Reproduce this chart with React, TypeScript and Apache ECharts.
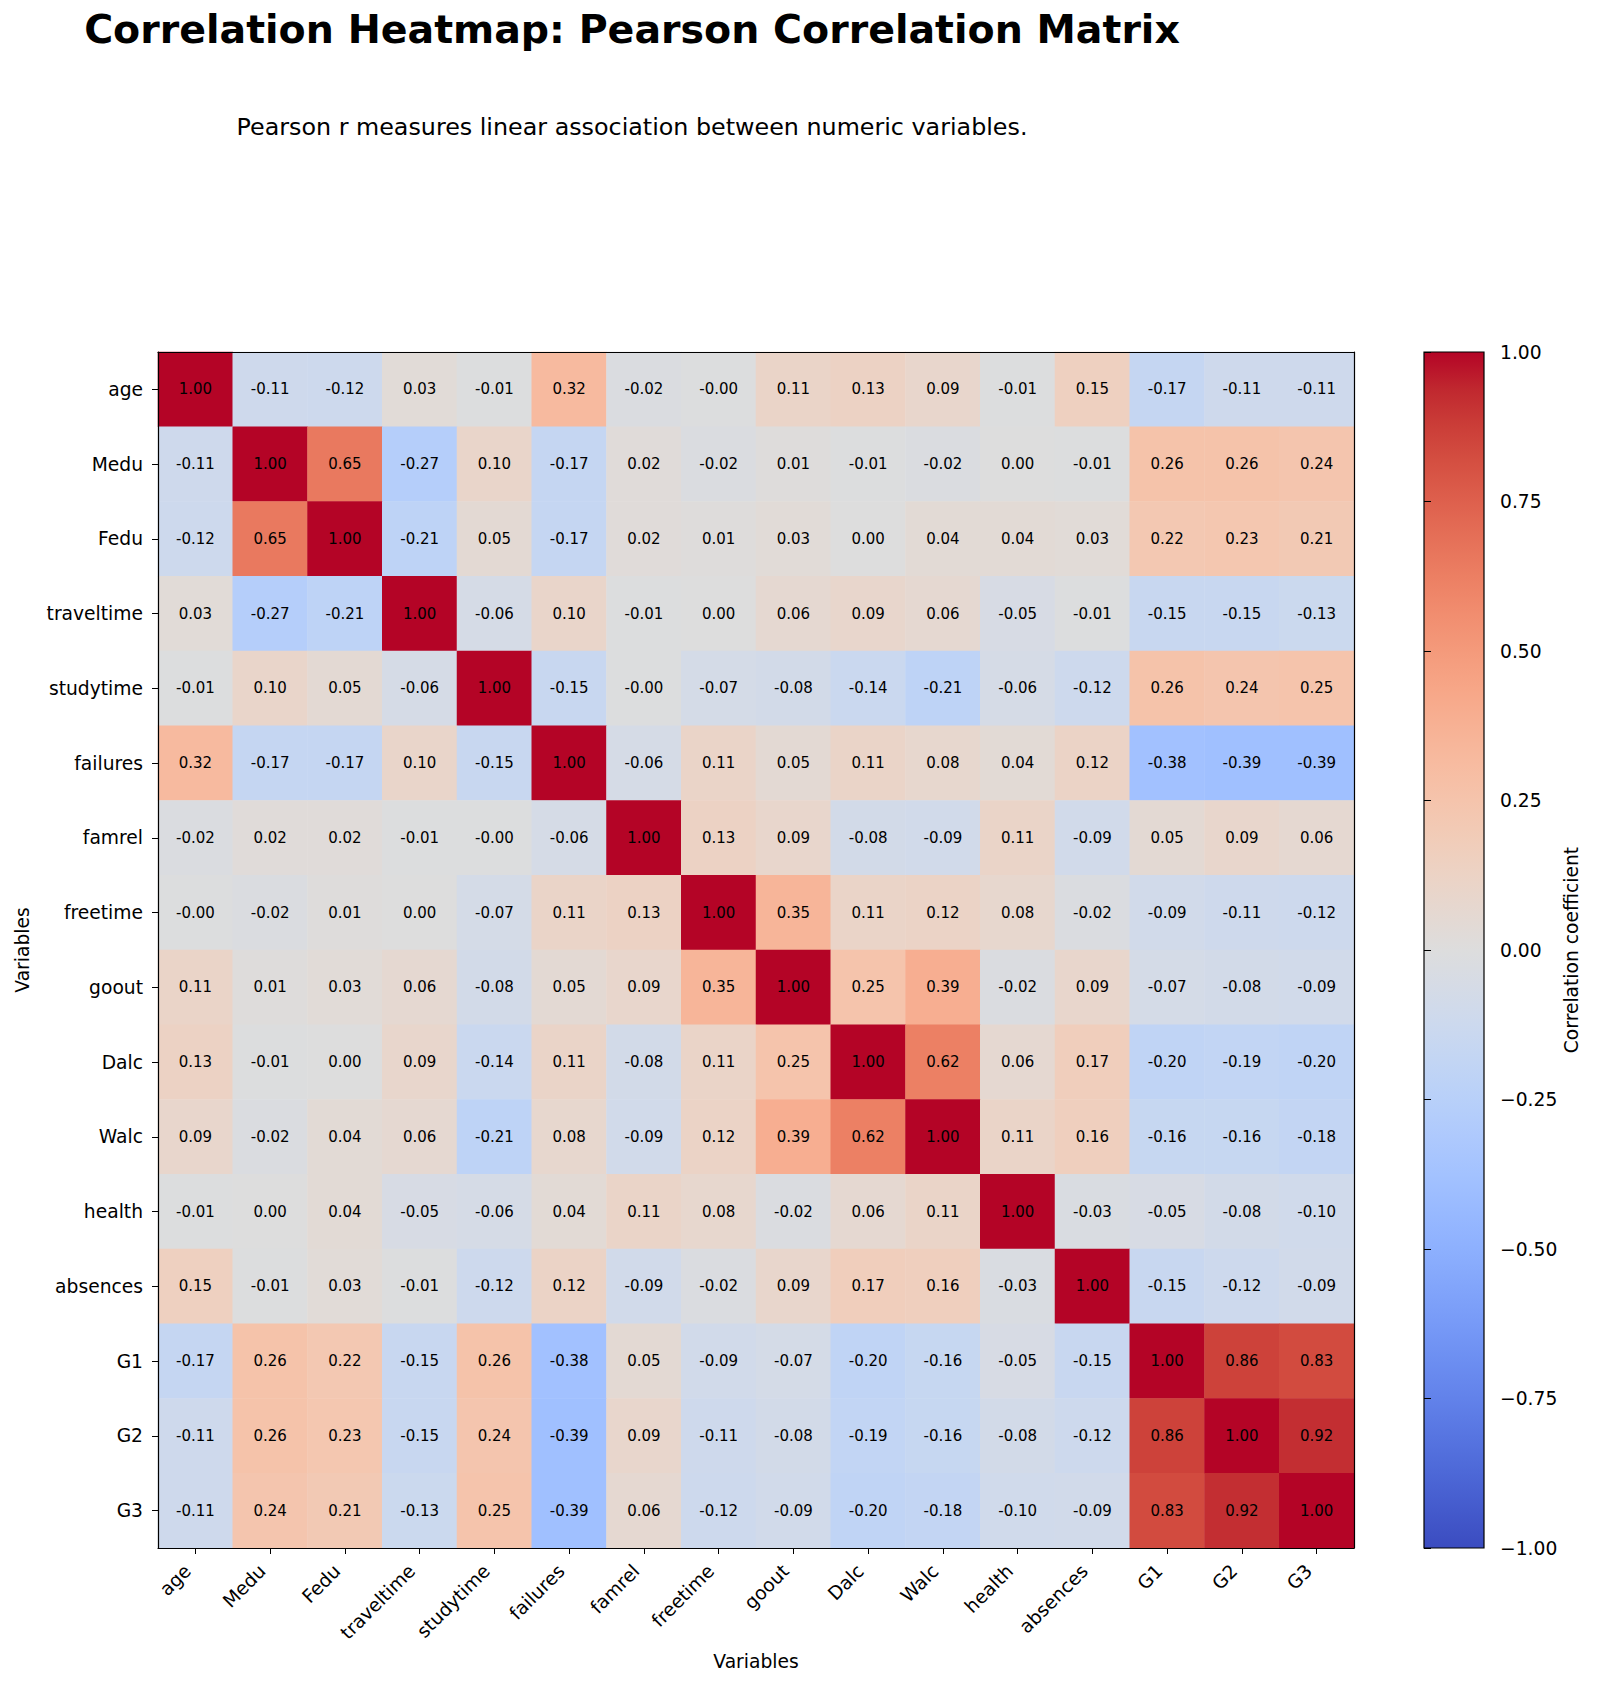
import React, { useEffect, useRef } from "react";
import * as echarts from "echarts";

// ---------- data ----------
const variables = [
  "age", "Medu", "Fedu", "traveltime", "studytime", "failures", "famrel", "freetime",
  "goout", "Dalc", "Walc", "health", "absences", "G1", "G2", "G3",
];

const rowAge = [1.0, -0.11, -0.12, 0.03, -0.01, 0.32, -0.02, -0.004, 0.11, 0.13, 0.09, -0.01, 0.15, -0.17, -0.11, -0.11];
const rowMedu = [-0.11, 1.0, 0.65, -0.27, 0.1, -0.17, 0.02, -0.02, 0.01, -0.01, -0.02, 0.0, -0.01, 0.26, 0.26, 0.24];
const rowFedu = [-0.12, 0.65, 1.0, -0.21, 0.05, -0.17, 0.02, 0.01, 0.03, 0.0, 0.04, 0.04, 0.03, 0.22, 0.23, 0.21];
const rowTraveltime = [0.03, -0.27, -0.21, 1.0, -0.06, 0.1, -0.01, 0.0, 0.06, 0.09, 0.06, -0.05, -0.01, -0.15, -0.15, -0.13];
const rowStudytime = [-0.01, 0.1, 0.05, -0.06, 1.0, -0.15, -0.004, -0.07, -0.08, -0.14, -0.21, -0.06, -0.12, 0.26, 0.24, 0.25];
const rowFailures = [0.32, -0.17, -0.17, 0.1, -0.15, 1.0, -0.06, 0.11, 0.05, 0.11, 0.08, 0.04, 0.12, -0.38, -0.39, -0.39];
const rowFamrel = [-0.02, 0.02, 0.02, -0.01, -0.004, -0.06, 1.0, 0.13, 0.09, -0.08, -0.09, 0.11, -0.09, 0.05, 0.09, 0.06];
const rowFreetime = [-0.004, -0.02, 0.01, 0.0, -0.07, 0.11, 0.13, 1.0, 0.35, 0.11, 0.12, 0.08, -0.02, -0.09, -0.11, -0.12];
const rowGoout = [0.11, 0.01, 0.03, 0.06, -0.08, 0.05, 0.09, 0.35, 1.0, 0.25, 0.39, -0.02, 0.09, -0.07, -0.08, -0.09];
const rowDalc = [0.13, -0.01, 0.0, 0.09, -0.14, 0.11, -0.08, 0.11, 0.25, 1.0, 0.62, 0.06, 0.17, -0.2, -0.19, -0.2];
const rowWalc = [0.09, -0.02, 0.04, 0.06, -0.21, 0.08, -0.09, 0.12, 0.39, 0.62, 1.0, 0.11, 0.16, -0.16, -0.16, -0.18];
const rowHealth = [-0.01, 0.0, 0.04, -0.05, -0.06, 0.04, 0.11, 0.08, -0.02, 0.06, 0.11, 1.0, -0.03, -0.05, -0.08, -0.1];
const rowAbsences = [0.15, -0.01, 0.03, -0.01, -0.12, 0.12, -0.09, -0.02, 0.09, 0.17, 0.16, -0.03, 1.0, -0.15, -0.12, -0.09];
const rowG1 = [-0.17, 0.26, 0.22, -0.15, 0.26, -0.38, 0.05, -0.09, -0.07, -0.2, -0.16, -0.05, -0.15, 1.0, 0.86, 0.83];
const rowG2 = [-0.11, 0.26, 0.23, -0.15, 0.24, -0.39, 0.09, -0.11, -0.08, -0.19, -0.16, -0.08, -0.12, 0.86, 1.0, 0.92];
const rowG3 = [-0.11, 0.24, 0.21, -0.13, 0.25, -0.39, 0.06, -0.12, -0.09, -0.2, -0.18, -0.1, -0.09, 0.83, 0.92, 1.0];

const correlationRows = [
  rowAge, rowMedu, rowFedu, rowTraveltime, rowStudytime, rowFailures, rowFamrel, rowFreetime,
  rowGoout, rowDalc, rowWalc, rowHealth, rowAbsences, rowG1, rowG2, rowG3,
];

const colorMin = -1;
const colorMax = 1;
const colorbarInterval = 0.25;

// matplotlib "coolwarm" (low -> high)
const coolwarm = [
  "#3b4cc0", "#445acc", "#4d68d7", "#5775e1", "#6282ea", "#6c8ef1", "#779af7", "#82a5fb",
  "#8db0fe", "#98b9ff", "#a3c2ff", "#aec9fd", "#b8d0f9", "#c2d5f4", "#ccd9ee", "#d5dbe6",
  "#dddddd", "#e5d8d1", "#ecd3c5", "#f1ccb8", "#f5c4ac", "#f7bba0", "#f7b194", "#f7a687",
  "#f49a7b", "#f18d6f", "#ec7f63", "#e57058", "#de604d", "#d55042", "#cb3e38", "#c0282f",
  "#b40426",
];

const FONT = "DejaVu Sans";

export default function App() {
  const ref = useRef<HTMLDivElement>(null);

  useEffect(() => {
    if (!ref.current) return;
    const chart = echarts.init(ref.current, null, { renderer: "svg" });

    const heatData: [number, number, number][] = [];
    correlationRows.forEach((row, i) => {
      row.forEach((v, j) => heatData.push([j, i, v]));
    });

    const n = coolwarm.length - 1;
    const gradientStops = coolwarm.map((_, k) => ({ offset: k / n, color: coolwarm[n - k] }));

    const black = { color: "#000", width: 1.2 };

    chart.setOption({
      animation: false,
      backgroundColor: "#fff",
      title: [
        {
          text: "Correlation Heatmap: Pearson Correlation Matrix",
          left: 627,
          top: 4,
          textAlign: "center",
          textStyle: { fontSize: 39.5, fontWeight: "bold", color: "#000", fontFamily: FONT },
        },
        {
          text: "Pearson r measures linear association between numeric variables.",
          left: 627,
          top: 110,
          textAlign: "center",
          textStyle: { fontSize: 23.8, fontWeight: "normal", color: "#000", fontFamily: FONT },
        },
      ],
      grid: [
        { left: 158, top: 352, width: 1196, height: 1196, outerBoundsMode: "none" },
        { left: 1424, top: 352, width: 60, height: 1196, outerBoundsMode: "none" },
      ],
      xAxis: [
        {
          type: "category",
          gridIndex: 0,
          data: variables,
          position: "bottom",
          z: 5,
          axisLine: { show: true, lineStyle: black },
          axisTick: { show: true, alignWithLabel: true, length: 6, lineStyle: { color: "#000", width: 1 } },
          axisLabel: {
            interval: 0,
            rotate: 45,
            margin: 12,
            padding: [0, 11, 0, 0],
            fontSize: 18.7,
            color: "#000",
            fontFamily: FONT,
          },
          splitLine: { show: false },
          name: "Variables",
          nameLocation: "middle",
          nameGap: 104,
          nameTextStyle: { fontSize: 18.7, color: "#000", fontFamily: FONT },
        },
        {
          type: "category",
          gridIndex: 0,
          data: variables,
          position: "top",
          z: 5,
          axisLine: { show: true, lineStyle: black },
          axisTick: { show: false },
          axisLabel: { show: false },
          splitLine: { show: false },
        },
        { type: "value", gridIndex: 1, show: false, min: 0, max: 1 },
      ],
      yAxis: [
        {
          type: "category",
          gridIndex: 0,
          data: variables,
          inverse: true,
          position: "left",
          z: 5,
          axisLine: { show: true, lineStyle: black },
          axisTick: { show: true, alignWithLabel: true, length: 6, lineStyle: { color: "#000", width: 1 } },
          axisLabel: { interval: 0, margin: 15, fontSize: 18.7, color: "#000", fontFamily: FONT },
          splitLine: { show: false },
          name: "Variables",
          nameLocation: "middle",
          nameRotate: 90,
          nameGap: 126,
          nameTextStyle: { fontSize: 18.7, color: "#000", fontFamily: FONT },
        },
        {
          type: "category",
          gridIndex: 0,
          data: variables,
          inverse: true,
          position: "right",
          z: 5,
          axisLine: { show: true, lineStyle: black },
          axisTick: { show: false },
          axisLabel: { show: false },
          splitLine: { show: false },
        },
        {
          type: "value",
          gridIndex: 1,
          min: colorMin,
          max: colorMax,
          interval: colorbarInterval,
          position: "right",
          z: 5,
          axisLine: { show: false },
          axisTick: { show: true, length: 7, lineStyle: { color: "#000", width: 1 } },
          axisLabel: {
            margin: 16,
            fontSize: 18.7,
            color: "#000",
            fontFamily: FONT,
            formatter: (v: number) => (v < 0 ? "\u2212" : "") + Math.abs(v).toFixed(2),
          },
          splitLine: { show: false },
          name: "Correlation coefficient",
          nameLocation: "middle",
          nameRotate: 90,
          nameGap: 78,
          nameTextStyle: { fontSize: 18.7, color: "#000", fontFamily: FONT },
        },
      ],
      visualMap: {
        show: false,
        type: "continuous",
        min: colorMin,
        max: colorMax,
        seriesIndex: 0,
        inRange: { color: coolwarm },
      },
      graphic: [
        {
          type: "rect",
          z: 1,
          shape: { x: 1424, y: 352, width: 60, height: 1196 },
          style: {
            fill: new echarts.graphic.LinearGradient(0, 0, 0, 1, gradientStops),
            stroke: "#000",
            lineWidth: 1.2,
          },
        },
      ],
      series: [
        {
          type: "heatmap",
          xAxisIndex: 0,
          yAxisIndex: 0,
          data: heatData,
          progressive: 0,
          emphasis: { disabled: true },
          label: {
            show: true,
            formatter: (p: any) => (p.value[2] as number).toFixed(2),
            fontSize: 15,
            color: "#000",
            fontFamily: FONT,
          },
        },
      ],
    });

    return () => chart.dispose();
  }, []);

  return (
    <div
      ref={ref}
      style={{ position: "absolute", left: 0, top: 0, width: 1600, height: 1689 }}
    />
  );
}
